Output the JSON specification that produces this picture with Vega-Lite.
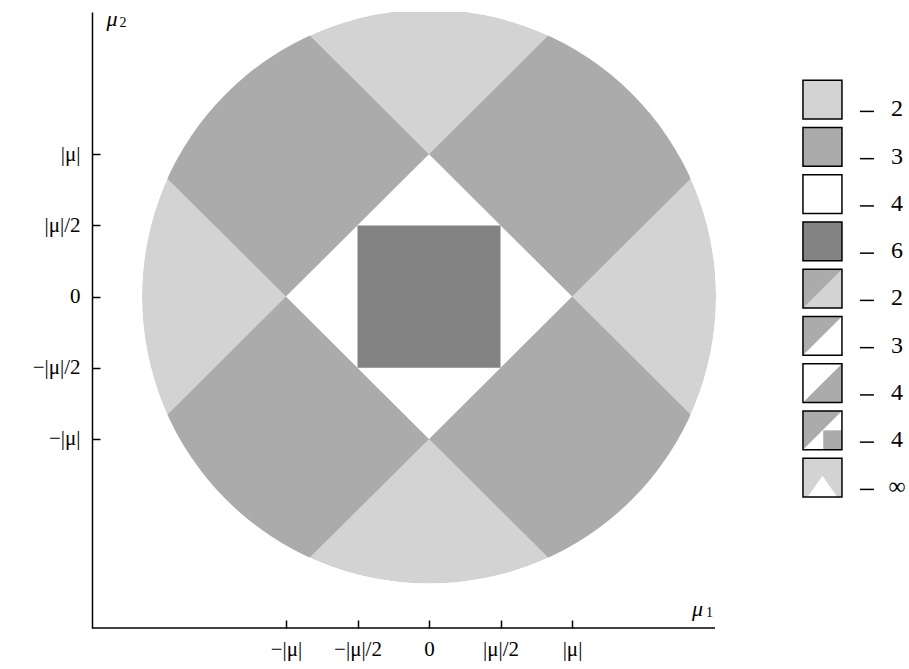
{
  "$schema": "https://vega.github.io/schema/vega-lite/v6.json",
  "width": 817,
  "height": 616,
  "autosize": {"type": "none"},
  "padding": {"left": 92, "top": 12, "right": 0, "bottom": 41},
  "config": {
    "view": {"stroke": null},
    "font": "Liberation Serif",
    "axis": {"grid": false, "title": null, "tickColor": "black", "tickWidth": 1.5, "tickSize": -8, "labelFontSize": 21, "labelColor": "black", "labelFont": "Liberation Serif", "domainColor": "black", "domainWidth": 1.5, "zindex": 1},
    "axisX": {"domain": false, "labelPadding": 18},
    "axisY": {"domain": true, "labelPadding": 20}
  },
  "layer": [
    {
      "data": {"values": [{"cx": 0, "cy": 0}]},
      "mark": {"type": "arc", "fill": "#d3d3d3", "radius": 287, "theta": 0, "theta2": 6.2832, "clip": true},
      "encoding": {
        "x": {"field": "cx", "type": "quantitative", "title": null, "scale": {"domain": [-2.357, 3.357], "nice": false, "zero": false},
          "axis": {"zindex": 2, "values": [-1, -0.5, 0, 0.5, 1], "labelExpr": "datum.value == -1 ? '−|μ|' : datum.value == -0.5 ? '−|μ|/2' : datum.value == 0 ? '0' : datum.value == 0.5 ? '|μ|/2' : '|μ|'"}},
        "y": {"field": "cy", "type": "quantitative", "title": null, "scale": {"domain": [-2.329, 2.0], "nice": false, "zero": false},
          "axis": {"zindex": 2, "values": [-1, -0.5, 0, 0.5, 1], "labelExpr": "datum.value == -1 ? '−|μ|' : datum.value == -0.5 ? '−|μ|/2' : datum.value == 0 ? '0' : datum.value == 0.5 ? '|μ|/2' : '|μ|'"}}
      }
    },
    {
      "data": {"values": [
        {"strip": "UR", "x": 0, "lo": 1, "hi": 1},
        {"strip": "UR", "x": 0.95, "lo": 0.05, "hi": 1.95},
        {"strip": "UR", "x": 1, "lo": 0, "hi": 1.9},
        {"strip": "UR", "x": 1.95, "lo": 0.95, "hi": 0.95},
        {"strip": "UL", "x": -1.95, "lo": 0.95, "hi": 0.95},
        {"strip": "UL", "x": -1, "lo": 0, "hi": 1.9},
        {"strip": "UL", "x": -0.95, "lo": 0.05, "hi": 1.95},
        {"strip": "UL", "x": 0, "lo": 1, "hi": 1},
        {"strip": "LR", "x": 0, "lo": -1, "hi": -1},
        {"strip": "LR", "x": 0.95, "lo": -1.95, "hi": -0.05},
        {"strip": "LR", "x": 1, "lo": -1.9, "hi": 0},
        {"strip": "LR", "x": 1.95, "lo": -0.95, "hi": -0.95},
        {"strip": "LL", "x": -1.95, "lo": -0.95, "hi": -0.95},
        {"strip": "LL", "x": -1, "lo": -1.9, "hi": 0},
        {"strip": "LL", "x": -0.95, "lo": -1.95, "hi": -0.05},
        {"strip": "LL", "x": 0, "lo": -1, "hi": -1}
      ]},
      "mark": {"type": "area", "fill": "#ababab", "clip": true},
      "encoding": {
        "x": {"field": "x", "type": "quantitative", "title": null},
        "y": {"field": "lo", "type": "quantitative", "title": null, "stack": null},
        "y2": {"field": "hi"},
        "detail": {"field": "strip"}
      }
    },
    {
      "data": {"values": [{"cx": 0, "cy": 0}]},
      "mark": {"type": "arc", "fill": "white", "radius": 318, "radius2": 287, "theta": 0, "theta2": 6.2832, "clip": true},
      "encoding": {
        "x": {"field": "cx", "type": "quantitative", "title": null},
        "y": {"field": "cy", "type": "quantitative", "title": null}
      }
    },
    {
      "data": {"values": [
        {"x": -1, "lo": 0, "hi": 0},
        {"x": 0, "lo": -1, "hi": 1},
        {"x": 1, "lo": 0, "hi": 0}
      ]},
      "mark": {"type": "area", "fill": "white"},
      "encoding": {
        "x": {"field": "x", "type": "quantitative", "title": null},
        "y": {"field": "lo", "type": "quantitative", "title": null, "stack": null},
        "y2": {"field": "hi"}
      }
    },
    {
      "data": {"values": [{"x1": -0.5, "x2": 0.5, "y1": -0.5, "y2": 0.5}]},
      "mark": {"type": "rect", "fill": "#838383"},
      "encoding": {
        "x": {"field": "x1", "type": "quantitative", "title": null},
        "x2": {"field": "x2"},
        "y": {"field": "y1", "type": "quantitative", "title": null},
        "y2": {"field": "y2"}
      }
    },
    {
      "data": {"values": [{"x1": -2.357, "x2": 2.0, "y": -2.329}]},
      "mark": {"type": "rule", "color": "black", "strokeWidth": 1.5},
      "encoding": {
        "x": {"field": "x1", "type": "quantitative", "title": null},
        "x2": {"field": "x2"},
        "y": {"field": "y", "type": "quantitative", "title": null}
      }
    },
    {
      "data": {"values": [
        {"label": "μ", "x": -2.217, "y": 1.954},
        {"label": "μ", "x": 1.878, "y": -2.193}
      ]},
      "mark": {"type": "text", "font": "Liberation Serif", "fontStyle": "italic", "fontSize": 22, "color": "black", "align": "center", "baseline": "middle"},
      "encoding": {
        "x": {"field": "x", "type": "quantitative", "title": null},
        "y": {"field": "y", "type": "quantitative", "title": null},
        "text": {"field": "label"}
      }
    },
    {
      "data": {"values": [
        {"label": "2", "x": -2.140, "y": 1.926},
        {"label": "1", "x": 1.962, "y": -2.221}
      ]},
      "mark": {"type": "text", "font": "Liberation Serif", "fontSize": 14, "color": "black", "align": "center", "baseline": "middle"},
      "encoding": {
        "x": {"field": "x", "type": "quantitative", "title": null},
        "y": {"field": "y", "type": "quantitative", "title": null},
        "text": {"field": "label"}
      }
    },
    {
      "data": {"values": [
        {"row": 1, "x0": 2.6154, "x1": 2.8881, "t": 1.5205, "b": 1.2482, "shade": "light"},
        {"row": 2, "x0": 2.6154, "x1": 2.8881, "t": 1.1885, "b": 0.9162, "shade": "medium"},
        {"row": 3, "x0": 2.6154, "x1": 2.8881, "t": 0.8564, "b": 0.5842, "shade": "white"},
        {"row": 4, "x0": 2.6154, "x1": 2.8881, "t": 0.5244, "b": 0.2521, "shade": "dark"},
        {"row": 5, "x0": 2.6154, "x1": 2.8881, "t": 0.1923, "b": -0.0799, "shade": "light"},
        {"row": 6, "x0": 2.6154, "x1": 2.8881, "t": -0.1397, "b": -0.4120, "shade": "white"},
        {"row": 7, "x0": 2.6154, "x1": 2.8881, "t": -0.4718, "b": -0.7440, "shade": "white"},
        {"row": 8, "x0": 2.6154, "x1": 2.8881, "t": -0.8038, "b": -1.0761, "shade": "white"},
        {"row": 8.5, "x0": 2.7572, "x1": 2.8881, "t": -0.9399, "b": -1.0761, "shade": "medium"},
        {"row": 9, "x0": 2.6154, "x1": 2.8881, "t": -1.1358, "b": -1.4081, "shade": "light"}
      ]},
      "mark": {"type": "rect"},
      "encoding": {
        "x": {"field": "x0", "type": "quantitative", "title": null},
        "x2": {"field": "x1"},
        "y": {"field": "t", "type": "quantitative", "title": null},
        "y2": {"field": "b"},
        "color": {"field": "shade", "type": "nominal", "legend": null, "scale": {"domain": ["light", "medium", "white", "dark"], "range": ["#d3d3d3", "#ababab", "#ffffff", "#838383"]}}
      }
    },
    {
      "data": {"values": [
        {"id": "r5", "x": 2.6154, "lo": -0.0799, "hi": 0.1923, "shade": "medium"},
        {"id": "r5", "x": 2.8881, "lo": 0.1923, "hi": 0.1923, "shade": "medium"},
        {"id": "r6", "x": 2.6154, "lo": -0.4120, "hi": -0.1397, "shade": "medium"},
        {"id": "r6", "x": 2.8881, "lo": -0.1397, "hi": -0.1397, "shade": "medium"},
        {"id": "r7", "x": 2.6154, "lo": -0.7440, "hi": -0.7440, "shade": "medium"},
        {"id": "r7", "x": 2.8881, "lo": -0.7440, "hi": -0.4718, "shade": "medium"},
        {"id": "r8", "x": 2.6154, "lo": -1.0761, "hi": -0.8038, "shade": "medium"},
        {"id": "r8", "x": 2.8881, "lo": -0.8038, "hi": -0.8038, "shade": "medium"},
        {"id": "r9", "x": 2.6481, "lo": -1.4081, "hi": -1.4081, "shade": "white"},
        {"id": "r9", "x": 2.7518, "lo": -1.4081, "hi": -1.2587, "shade": "white"},
        {"id": "r9", "x": 2.8554, "lo": -1.4081, "hi": -1.4081, "shade": "white"}
      ]},
      "mark": {"type": "area"},
      "encoding": {
        "x": {"field": "x", "type": "quantitative", "title": null},
        "y": {"field": "lo", "type": "quantitative", "title": null, "stack": null},
        "y2": {"field": "hi"},
        "detail": {"field": "id"},
        "color": {"field": "shade", "type": "nominal", "legend": null}
      }
    },
    {
      "data": {"values": [
        {"row": 1, "x0": 2.6154, "x1": 2.8881, "t": 1.5205, "b": 1.2482},
        {"row": 2, "x0": 2.6154, "x1": 2.8881, "t": 1.1885, "b": 0.9162},
        {"row": 3, "x0": 2.6154, "x1": 2.8881, "t": 0.8564, "b": 0.5842},
        {"row": 4, "x0": 2.6154, "x1": 2.8881, "t": 0.5244, "b": 0.2521},
        {"row": 5, "x0": 2.6154, "x1": 2.8881, "t": 0.1923, "b": -0.0799},
        {"row": 6, "x0": 2.6154, "x1": 2.8881, "t": -0.1397, "b": -0.4120},
        {"row": 7, "x0": 2.6154, "x1": 2.8881, "t": -0.4718, "b": -0.7440},
        {"row": 8, "x0": 2.6154, "x1": 2.8881, "t": -0.8038, "b": -1.0761},
        {"row": 9, "x0": 2.6154, "x1": 2.8881, "t": -1.1358, "b": -1.4081}
      ]},
      "mark": {"type": "rect", "fill": null, "stroke": "black", "strokeWidth": 1.5},
      "encoding": {
        "x": {"field": "x0", "type": "quantitative", "title": null},
        "x2": {"field": "x1"},
        "y": {"field": "t", "type": "quantitative", "title": null},
        "y2": {"field": "b"}
      }
    },
    {
      "data": {"values": [
        {"d0": 3.0136, "d1": 3.1118, "y": 1.3014},
        {"d0": 3.0136, "d1": 3.1118, "y": 0.9693},
        {"d0": 3.0136, "d1": 3.1118, "y": 0.6373},
        {"d0": 3.0136, "d1": 3.1118, "y": 0.3052},
        {"d0": 3.0136, "d1": 3.1118, "y": -0.0268},
        {"d0": 3.0136, "d1": 3.1118, "y": -0.3588},
        {"d0": 3.0136, "d1": 3.1118, "y": -0.6909},
        {"d0": 3.0136, "d1": 3.1118, "y": -1.0229},
        {"d0": 3.0136, "d1": 3.1118, "y": -1.3550}
      ]},
      "mark": {"type": "rule", "color": "black", "strokeWidth": 1.5},
      "encoding": {
        "x": {"field": "d0", "type": "quantitative", "title": null},
        "x2": {"field": "d1"},
        "y": {"field": "y", "type": "quantitative", "title": null}
      }
    },
    {
      "data": {"values": [
        {"label": "2", "x": 3.2727, "y": 1.2672},
        {"label": "3", "x": 3.2727, "y": 0.9351},
        {"label": "4", "x": 3.2727, "y": 0.6030},
        {"label": "6", "x": 3.2727, "y": 0.2710},
        {"label": "2", "x": 3.2727, "y": -0.0610},
        {"label": "3", "x": 3.2727, "y": -0.3930},
        {"label": "4", "x": 3.2727, "y": -0.7251},
        {"label": "4", "x": 3.2727, "y": -1.0571},
        {"label": "∞", "x": 3.2727, "y": -1.3892}
      ]},
      "mark": {"type": "text", "font": "Liberation Serif", "fontSize": 24, "color": "black", "align": "center", "baseline": "alphabetic"},
      "encoding": {
        "x": {"field": "x", "type": "quantitative", "title": null},
        "y": {"field": "y", "type": "quantitative", "title": null},
        "text": {"field": "label"}
      }
    }
  ]
}
